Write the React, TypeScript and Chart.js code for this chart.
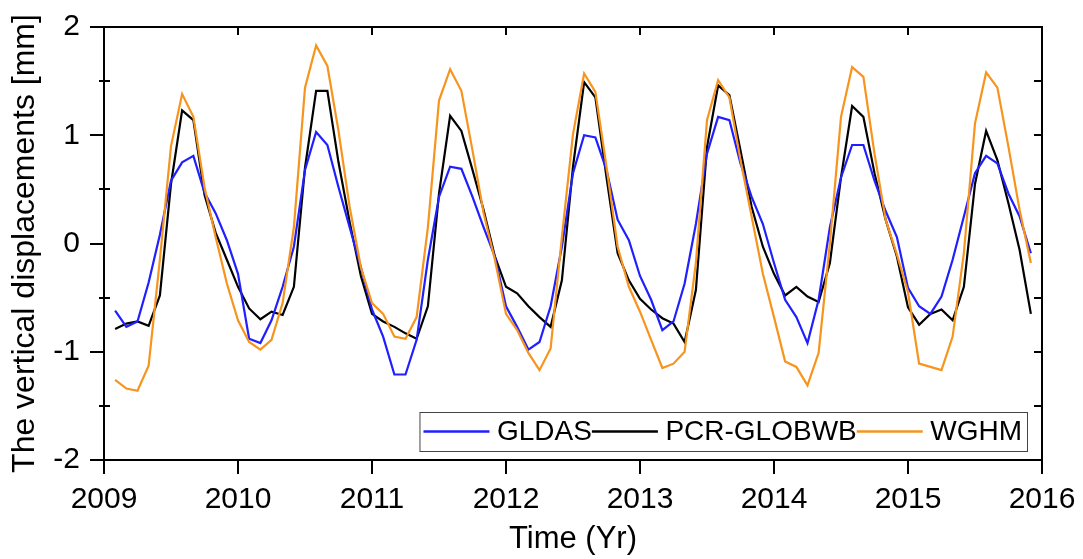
import React, { useEffect, useRef } from 'react';
import { Chart, registerables } from 'chart.js';

Chart.register(...registerables);

const times = [
  2009.083, 2009.167, 2009.25, 2009.333, 2009.417, 2009.5, 2009.583, 2009.667, 2009.75, 2009.833, 2009.917,
  2010.0, 2010.083, 2010.167, 2010.25, 2010.333, 2010.417, 2010.5, 2010.583, 2010.667, 2010.75, 2010.833, 2010.917,
  2011.0, 2011.083, 2011.167, 2011.25, 2011.333, 2011.417, 2011.5, 2011.583, 2011.667, 2011.75, 2011.833, 2011.917,
  2012.0, 2012.083, 2012.167, 2012.25, 2012.333, 2012.417, 2012.5, 2012.583, 2012.667, 2012.75, 2012.833, 2012.917,
  2013.0, 2013.083, 2013.167, 2013.25, 2013.333, 2013.417, 2013.5, 2013.583, 2013.667, 2013.75, 2013.833, 2013.917,
  2014.0, 2014.083, 2014.167, 2014.25, 2014.333, 2014.417, 2014.5, 2014.583, 2014.667, 2014.75, 2014.833, 2014.917,
  2015.0, 2015.083, 2015.167, 2015.25, 2015.333, 2015.417, 2015.5, 2015.583, 2015.667, 2015.75, 2015.833, 2015.917,
];

const gldas = [
  -0.62, -0.77, -0.72, -0.36, 0.08, 0.58, 0.75, 0.81, 0.47, 0.28, 0.03,
  -0.28, -0.88, -0.92, -0.71, -0.4, -0.03, 0.68, 1.03, 0.91, 0.52, 0.15, -0.22,
  -0.61, -0.86, -1.21, -1.21, -0.89, -0.15, 0.43, 0.71, 0.69, 0.43, 0.15, -0.12,
  -0.58, -0.77, -0.98, -0.91, -0.58, -0.03, 0.65, 1.0, 0.98, 0.68, 0.22, 0.03,
  -0.3, -0.52, -0.8, -0.72, -0.37, 0.18, 0.83, 1.17, 1.14, 0.74, 0.43, 0.18,
  -0.18, -0.52, -0.68, -0.92, -0.52, 0.15, 0.61, 0.91, 0.91, 0.58, 0.3, 0.06,
  -0.41, -0.58, -0.65, -0.49, -0.15, 0.25, 0.65, 0.81, 0.74, 0.46, 0.25, -0.09,
];

const pcrGlobwb = [
  -0.79, -0.74, -0.72, -0.76, -0.48, 0.55, 1.23, 1.14, 0.45, 0.1, -0.15,
  -0.4, -0.6, -0.7, -0.63, -0.66, -0.4, 0.7, 1.41, 1.41, 0.75, 0.2, -0.3,
  -0.65, -0.72, -0.77, -0.83, -0.88, -0.58, 0.46, 1.18, 1.04, 0.68, 0.31, -0.12,
  -0.4, -0.46, -0.58, -0.68, -0.77, -0.34, 0.71, 1.49, 1.35, 0.61, -0.09, -0.34,
  -0.51, -0.61, -0.69, -0.74, -0.91, -0.43, 0.89, 1.46, 1.37, 0.86, 0.34, -0.03,
  -0.28, -0.48, -0.4, -0.49, -0.54, -0.18, 0.61, 1.27, 1.17, 0.65, 0.22, -0.12,
  -0.59, -0.75, -0.65, -0.61, -0.71, -0.4, 0.55, 1.04, 0.77, 0.37, -0.06, -0.65,
];

const wghm = [
  -1.26, -1.34, -1.36, -1.13, -0.15, 0.9, 1.38, 1.17, 0.52, 0.06, -0.37,
  -0.71, -0.91, -0.98, -0.89, -0.55, 0.15, 1.44, 1.83, 1.64, 1.04, 0.34, -0.22,
  -0.55, -0.65, -0.86, -0.88, -0.68, 0.15, 1.32, 1.61, 1.41, 0.86, 0.28, -0.15,
  -0.65, -0.8, -1.01, -1.17, -0.97, 0.06, 1.01, 1.57, 1.4, 0.71, -0.03, -0.4,
  -0.63, -0.89, -1.15, -1.11, -1.0, -0.18, 1.14, 1.51, 1.35, 0.77, 0.25, -0.28,
  -0.68, -1.09, -1.14, -1.31, -1.01, 0.0, 1.17, 1.63, 1.54, 0.83, 0.22, -0.1,
  -0.45, -1.11, -1.14, -1.17, -0.86, -0.09, 1.11, 1.58, 1.44, 0.89, 0.31, -0.18,
];

const seriesNames = ['GLDAS', 'PCR-GLOBWB', 'WGHM'];
const seriesColors = ['#1f1fff', '#000000', '#f7941d'];
const xTicks = [2009, 2010, 2011, 2012, 2013, 2014, 2015, 2016];
const yTicks = [-2, -1, 0, 1, 2];
const yMinorTicks = [-1.5, -0.5, 0.5, 1.5];

const FONT = "'Liberation Sans', Arial, sans-serif";

const framePlugin = {
  id: 'frameTicks',
  afterDatasetsDraw(chart: any) {
    const { ctx, chartArea: a, scales } = chart;
    const xs = scales.x;
    const ys = scales.y;
    ctx.save();
    ctx.strokeStyle = '#000';
    ctx.lineWidth = 2;
    ctx.strokeRect(a.left, a.top, a.right - a.left, a.bottom - a.top);
    ctx.beginPath();
    xTicks.forEach((v) => {
      const px = Math.round(xs.getPixelForValue(v));
      ctx.moveTo(px, a.bottom);
      ctx.lineTo(px, a.bottom + 14);
      ctx.moveTo(px, a.top);
      ctx.lineTo(px, a.top + 8);
    });
    yTicks.forEach((v) => {
      const py = Math.round(ys.getPixelForValue(v));
      ctx.moveTo(a.left - 14, py);
      ctx.lineTo(a.left, py);
      ctx.moveTo(a.right, py);
      ctx.lineTo(a.right - 8, py);
    });
    yMinorTicks.forEach((v) => {
      const py = Math.round(ys.getPixelForValue(v));
      ctx.moveTo(a.left - 5, py);
      ctx.lineTo(a.left + 6, py);
      ctx.moveTo(a.right, py);
      ctx.lineTo(a.right - 8, py);
    });
    ctx.stroke();
    ctx.restore();
  },
};

const legendPlugin = {
  id: 'innerLegend',
  afterDraw(chart: any) {
    const { ctx, chartArea: a } = chart;
    ctx.save();
    ctx.font = `28px ${FONT}`;
    const lineLen = 66;
    const gap = 7.5;
    const widths = seriesNames.map((n) => ctx.measureText(n).width);
    const boxW = 4 + widths.reduce((s, w) => s + lineLen + gap + w, 0) + 5;
    const boxH = 39;
    const right = a.right - 15;
    const bottom = a.bottom - 9;
    const left = right - boxW;
    const top = bottom - boxH;
    ctx.fillStyle = '#fff';
    ctx.fillRect(left, top, boxW, boxH);
    ctx.strokeStyle = '#444';
    ctx.lineWidth = 1;
    ctx.strokeRect(left + 0.5, top + 0.5, boxW, boxH);
    let x = left + 4;
    const cy = top + 19.5;
    seriesNames.forEach((n, i) => {
      ctx.strokeStyle = seriesColors[i];
      ctx.lineWidth = 2.5;
      ctx.beginPath();
      ctx.moveTo(x, cy);
      ctx.lineTo(x + lineLen, cy);
      ctx.stroke();
      x += lineLen + gap;
      ctx.fillStyle = '#000';
      ctx.textAlign = 'left';
      ctx.textBaseline = 'middle';
      ctx.fillText(n, x, cy + 1);
      x += widths[i];
    });
    ctx.restore();
  },
};

export default function App() {
  const canvasRef = useRef<HTMLCanvasElement | null>(null);

  useEffect(() => {
    if (!canvasRef.current) return;
    const seriesData = [gldas, pcrGlobwb, wghm];
    const chart = new Chart(canvasRef.current, {
      type: 'line',
      data: {
        datasets: seriesNames.map((name, i) => ({
          label: name,
          data: times.map((t, j) => ({ x: t, y: seriesData[i][j] })),
          borderColor: seriesColors[i],
          backgroundColor: seriesColors[i],
          borderWidth: 2.2,
          pointRadius: 0,
          tension: 0,
          fill: false,
          order: i === 2 ? 0 : i === 0 ? 1 : 2,
        })),
      },
      options: {
        responsive: false,
        animation: false,
        events: [],
        layout: { padding: { top: 27, right: 41, left: 0, bottom: 0 } },
        plugins: {
          legend: { display: false },
          tooltip: { enabled: false },
        },
        scales: {
          x: {
            type: 'linear',
            min: 2009,
            max: 2016,
            grid: { display: false, drawTicks: false },
            border: { display: false },
            afterBuildTicks: (scale: any) => {
              scale.ticks = xTicks.map((v) => ({ value: v }));
            },
            afterFit: (scale: any) => {
              scale.height = 99;
              scale.paddingLeft = 0;
              scale.paddingRight = 0;
            },
            ticks: {
              color: '#000',
              padding: 22,
              font: { family: FONT, size: 30 },
              maxRotation: 0,
              callback: (v: any) => String(v),
            },
            title: {
              display: true,
              text: 'Time (Yr)',
              color: '#000',
              font: { family: FONT, size: 31 },
              padding: { top: 0, bottom: 1 },
            },
          },
          y: {
            type: 'linear',
            min: -2,
            max: 2,
            grid: { display: false, drawTicks: false },
            border: { display: false },
            afterBuildTicks: (scale: any) => {
              scale.ticks = yTicks.map((v) => ({ value: v }));
            },
            afterFit: (scale: any) => {
              scale.width = 104;
              scale.paddingTop = 0;
              scale.paddingBottom = 0;
            },
            ticks: {
              color: '#000',
              padding: 24,
              font: { family: FONT, size: 30 },
              callback: (v: any) => String(v),
            },
            title: {
              display: true,
              text: 'The vertical displacements [mm]',
              color: '#000',
              font: { family: FONT, size: 32 },
              padding: { top: 6, bottom: 0 },
            },
          },
        },
      },
      plugins: [framePlugin, legendPlugin],
    });
    return () => chart.destroy();
  }, []);

  return (
    <div style={{ position: 'absolute', left: 0, top: 0, width: 1083, height: 559, background: '#fff' }}>
      <canvas ref={canvasRef} width={1083} height={559} />
    </div>
  );
}
